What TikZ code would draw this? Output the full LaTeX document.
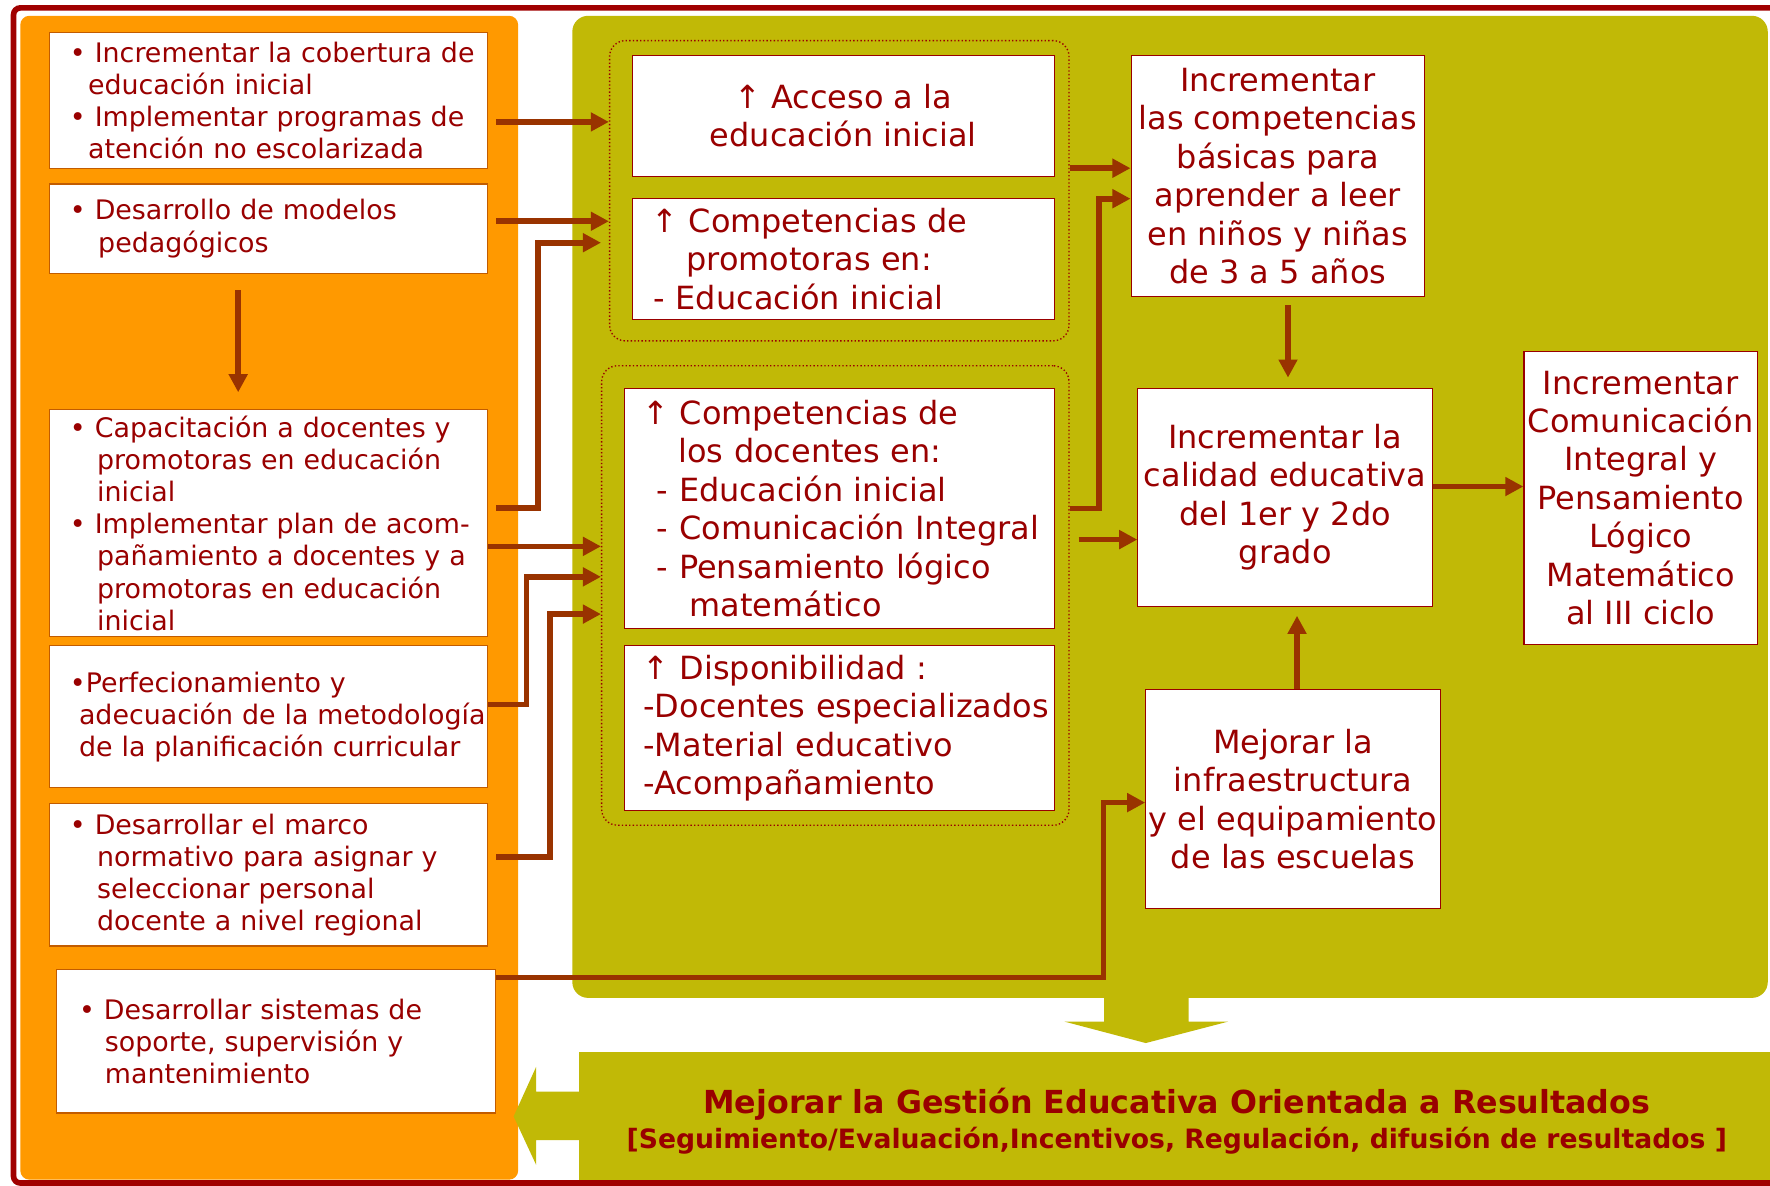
\documentclass[tikz,border=0pt]{standalone}
\usepackage{fontspec}
\setmainfont{DejaVu Sans}
\usetikzlibrary{arrows.meta,shapes}
\definecolor{naranja}{RGB}{255,153,0}
\definecolor{oliva}{RGB}{193,185,6}
\definecolor{vino}{RGB}{153,0,0}
\definecolor{ladrillo}{RGB}{153,51,0}
\definecolor{marco}{RGB}{160,0,0}
\newcommand{\sang}[1]{\hspace*{#1pt}}
\tikzstyle{izq}=[draw=ladrillo!60!naranja,fill=white,line width=1pt,text=vino,align=left,inner xsep=0pt,inner ysep=1pt,font=\fontsize{23.8}{28.5}\selectfont]
\tikzstyle{caja}=[draw=vino,fill=white,line width=1pt,text=vino,align=center,inner sep=1pt,font=\fontsize{28.3}{34}\selectfont]
\tikzstyle{grupo}=[draw=vino,dotted,line width=1.2pt,rounded corners=14pt]
\tikzstyle{banda}=[fill=oliva,text=vino,align=center,inner sep=0pt,font=\bfseries\fontsize{28.1}{31}\selectfont]
\tikzstyle{flecha}=[draw=ladrillo,line width=5pt,-{Triangle[length=16pt,width=16pt]}]

\begin{document}
\begin{tikzpicture}[x=1pt,y=-1pt]
    % fondo, marco y paneles
    \useasboundingbox (0,0) rectangle (1568,1050);
    \fill[white] (0,0) rectangle (1568,1050);
    \draw[marco,line width=5pt,rounded corners=6pt] (12,7) rectangle (1600,1048);
    \fill[naranja,rounded corners=8pt] (18,14) rectangle (459,1045);
    \fill[oliva,rounded corners=14pt] (507,14) rectangle (1566,884);
    \fill[oliva] (978,878) -- (1053,878) -- (1053,905) -- (1088,905) -- (1015,924) -- (943,905) -- (978,905) -- cycle;
    \node[banda,minimum width=1059pt,minimum height=113pt,text height=63pt,text depth=6pt] (gestion) at (1042.5,988.5)
        {Mejorar la Gestión Educativa Orientada a Resultados\\{\fontsize{23.6}{31}\selectfont [Seguimiento/Evaluación,Incentivos, Regulación, difusión de resultados ]}};
    \fill[oliva] (515,967) -- (475,967) -- (475,945) -- (455,989) -- (475,1032) -- (475,1010) -- (515,1010) -- cycle;

    % acciones (panel naranja)
    \node[izq,text width=388pt,minimum height=120pt] (L1) at (238,89)
        {\sang{18}• Incrementar la cobertura de\\\sang{34}educación inicial\\\sang{18}• Implementar programas de\\\sang{34}atención no escolarizada};
    \node[izq,text width=388pt,minimum height=79pt] (L2) at (238,202.5)
        {\sang{18}• Desarrollo de modelos\\\sang{43}pedagógicos};
    \node[izq,text width=388pt,minimum height=201pt] (L3) at (238,463.5)
        {\sang{18}• Capacitación a docentes y\\\sang{42}promotoras en educación\\\sang{42}inicial\\\sang{18}• Implementar plan de acom-\\\sang{42}pañamiento a docentes y a\\\sang{42}promotoras en educación\\\sang{42}inicial};
    \node[izq,text width=388pt,minimum height=126pt] (L4) at (238,635)
        {\sang{18}•Perfecionamiento y\\\sang{26}adecuación de la metodología\\\sang{26}de la planificación curricular};
    \node[izq,text width=388pt,minimum height=126pt] (L5) at (238,775)
        {\sang{18}• Desarrollar el marco\\\sang{42}normativo para asignar y\\\sang{42}seleccionar personal\\\sang{42}docente a nivel regional};
    \node[izq,text width=389pt,minimum height=127pt] (L6) at (244.5,922.5)
        {\sang{20}• Desarrollar sistemas de\\\sang{43}soporte, supervisión y\\\sang{43}mantenimiento};

    % resultados intermedios
    \node[grupo,minimum width=407pt,minimum height=266pt] (G1) at (743.5,169) {};
    \node[grupo,minimum width=414pt,minimum height=407pt] (G2) at (740,527.5) {};
    \node[caja,minimum width=374pt,minimum height=107pt] (A1) at (747,102.5)
        {↑ Acceso a la\\educación inicial};
    \node[caja,align=left,inner xsep=0pt,text width=374pt,minimum height=107pt] (A2) at (747,229.5)
        {\sang{17}↑ Competencias de\\\sang{48}promotoras en:\\\sang{19}- Educación inicial};
    \node[caja,align=left,inner xsep=0pt,text width=381pt,minimum height=213pt] (B1) at (743.5,450.5)
        {\sang{16}↑ Competencias de\\\sang{48}los docentes en:\\\sang{29}- Educación inicial\\\sang{29}- Comunicación Integral\\\sang{29}- Pensamiento lógico\\\sang{58}matemático};
    \node[caja,align=left,inner xsep=0pt,text width=381pt,minimum height=146pt] (B2) at (743.5,645)
        {\sang{16}↑ Disponibilidad :\\\sang{17}-Docentes especializados\\\sang{17}-Material educativo\\\sang{17}-Acompañamiento};

    % resultados finales
    \node[caja,minimum width=260pt,minimum height=214pt] (C1) at (1132,156)
        {Incrementar\\las competencias\\básicas para\\aprender a leer\\en niños y niñas\\de 3 a 5 años};
    \node[caja,minimum width=261pt,minimum height=193pt] (C2) at (1138.5,440.5)
        {Incrementar la\\calidad educativa\\del 1er y 2do\\grado};
    \node[caja,minimum width=207pt,minimum height=260pt] (C3) at (1453.5,441)
        {Incrementar\\Comunicación\\Integral y\\Pensamiento\\Lógico\\Matemático\\al III ciclo};
    \node[caja,minimum width=261pt,minimum height=194pt] (C4) at (1145.5,708)
        {Mejorar la\\infraestructura\\y el equipamiento\\de las escuelas};

    % flechas rectas
    \foreach \a/\xa/\ya/\b/\yb in {L1/7/-19/G1/61, L2/7/6.5/G1/-27, L3/0/-20.5/G2/43.5, G1/0/20/C1/7, B1/21/-27.5/C2/-37.5, C2/0/9.5/C3/10}
        \path[flecha] ([xshift=\xa pt,yshift=\ya pt]\a.east) -- ([yshift=\yb pt]\b.west);
    \path[flecha] ([xshift=-27pt,yshift=-14.5pt]L2.south) -- ([xshift=-27pt,yshift=15pt]L3.north);
    \path[flecha] ([xshift=9pt,yshift=-7pt]C1.south) -- ([xshift=2.5pt,yshift=9pt]C2.north);
    \path[flecha] ([xshift=3.5pt]C4.north) -- ([xshift=10.5pt,yshift=-8pt]C2.south);

    % flechas con codo
    \path[flecha] ([xshift=7pt,yshift=13.5pt]L3.east) -- ++(37pt,0) |- ([xshift=-7pt,yshift=-46pt]G1.west);
    \path[flecha] ([yshift=11pt]L4.east) -- ++(34pt,0) |- ([yshift=16.5pt]G2.west);
    \path[flecha] ([xshift=7pt,yshift=16pt]L5.east) -- ++(48pt,0) |- ([yshift=-16.5pt]G2.west);
    \path[flecha] ([yshift=56.5pt]L6.east) -- ++(538pt,0) |- ([yshift=-3pt]C4.west);
    \path[flecha] ([xshift=13pt]B1.east) -- ++(26pt,0) |- ([yshift=-20pt]C1.west);
\end{tikzpicture}
\end{document}
